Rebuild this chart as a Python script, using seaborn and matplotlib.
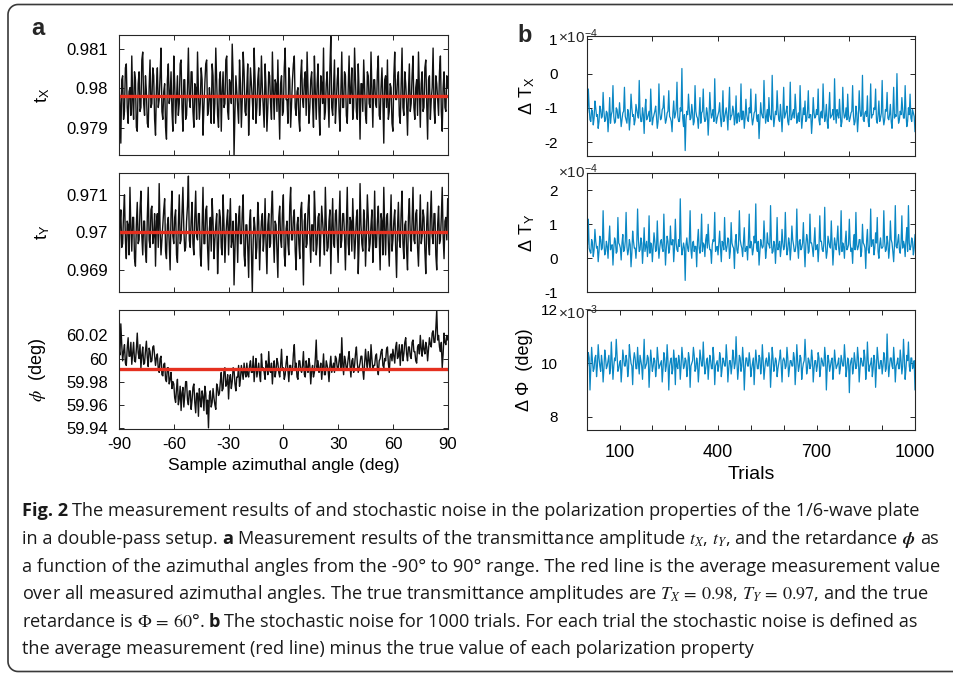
import numpy as np
import pandas as pd
import matplotlib
matplotlib.use("Agg")
import matplotlib.pyplot as plt
import seaborn as sns
from matplotlib.lines import Line2D

# ---------------- data ----------------
angles = np.arange(-90, 90.01, 0.5)          # sample azimuthal angle (deg), 361 samples
trials = np.arange(2.5, 1000.01, 2.5)        # trial axis, 400 samples

tx_mean = 0.97982                            # red line, t_X
ty_mean = 0.97000                            # red line, t_Y
phi_mean = 59.991                            # red line, phi

# t_X deviation from the red line, units of 1e-4
tx_dev = [3, -2, -12, 4, 5, -6, -4, 7, 8, -3, -7, 1, 2, -5, 10, -1, -6, 6, 4, -8, -9, 3, 6, -4, -3, 9, 11, -2, -5, 5, 1, -7, -8, 2, 9, -3, -2, 7, 5, -6,
          -10, 2, 7, -3, -1, 5, 12, -4, -6, 1, 3, -8, -11, 4, 8, -2, 0, 6, -4, -9, 10, 3, -7, -1, 5, -5, -2, 8, 9, -3, -9, 4, 4, -6, -5, 2, 12, -1, -3, 6,
          6, -4, -8, 3, 2, -6, 11, 1, -6, -2, 7, 4, -10, -3, 3, 8, 9, -5, -4, 2, -1, -7, 8, 5, -7, -2, 12, 3, -5, -8, 4, 6, -9, 1, 6, -3, -2, 9, 10, -4,
          -6, 4, 3, -2, 13, 5, -15, -4, 5, 1, -3, -7, 9, 3, -8, -1, 11, 6, -4, -5, 2, 8, -10, -2, 7, 3, -1, -6, 12, 4, -7, -3, 4, 7, -5, -1, 10, 2, -3, -8,
          8, 2, -9, -3, 6, 5, -2, -6, 11, 1, -6, 4, 3, -4, 9, -2, -11, 3, 5, -5, -4, 7, 12, -1, -1, -7, 7, 4, -8, -2, 4, 8, 10, -3, -5, 1, 2, -6, -9, 5,
          9, -1, -3, 4, 6, -5, 11, 2, -7, -3, 4, 6, -2, -8, 10, 1, -6, 3, 8, -4, -10, 5, 3, -2, 12, -6, -4, 3, 6, -1, -8, 7, 15, -3, -5, 2, 9, -7, -2, 4,
          7, -4, -9, 1, 11, -3, -3, 6, 5, -5, -7, 2, 10, -2, 1, 7, -6, -3, 12, 4, -4, -6, 8, 1, -11, 3, 3, -4, 9, 2, -5, -7, 6, 5, -2, -3, 11, 1, -8, 4,
          4, -2, -3, 6, 10, -5, -6, 2, 7, -1, -12, 4, 5, -3, 9, -6, -4, 3, 2, -7, -9, 5, 11, -1, -1, 4, 6, -5, -7, 2, 12, -3, -5, 6, 3, -2, -10, 1, 8, -4,
          -2, 5, 10, -3, -6, 2, 4, -5, 11, 1, -8, 3, 6, -4, -3, 7, 9, -2, -11, 4, 5, -6, -1, 2, 12, -3, -7, 5, 3, -1, -5, 6, 10, -4, -9, 2, 6, -3, -4, 5,
          2]

# t_Y deviation from the red line, units of 1e-4
ty_dev = [-11, 2, 6, -4, -3, 5, 10, -2, -7, 3, 2, -6, 12, 1, -5, 4, 4, -7, -9, 2, 8, -3, -2, 6, 11, -1, -6, 3, 3, -5, -8, 4, 12, -2, -4, 6, 7, -3, -1, 5,
          -9, 3, 5, -4, 13, 1, -6, -2, 2, 6, 9, -5, -7, 2, 4, -3, -10, 5, 11, -1, -3, 4, 6, -6, -8, 2, 10, -3, -2, 5, 12, 1, -5, -4, 3, 7, 15, -2, -4, 3,
          8, -3, -6, 4, 11, -1, -2, 5, 5, -6, -9, 2, 12, -3, -3, 6, 7, -4, -10, 1, 4, -5, 9, 3, -7, -2, 2, 5, -11, -3, 6, 4, -4, -6, 10, 2, -8, -1, 3, 6,
          -6, 2, 9, -4, -2, 3, -14, -5, 5, 1, -8, 4, 7, -3, -3, 5, 10, -6, -9, 2, 2, -4, -12, 3, 6, -5, -16, -2, 4, 1, -7, -4, 8, 3, -10, -2, 3, 5, -5, -1,
          9, -3, -11, 2, 5, -4, -3, 6, 11, -1, -8, 3, 2, -5, -12, 4, 7, -2, -4, 5, 10, -6, -9, 1, 3, -3, -6, 7, 12, -2, -2, 4, 6, -5, -10, 2, 4, -3, -7, 6,
          8, -2, -14, 3, 5, -4, -3, 6, 10, -1, -8, 2, 2, -5, 11, 4, -6, -3, 4, 5, -9, -1, 7, 3, -1, -6, 12, 2, -5, -4, 3, 6, -11, 1, 9, -3, -4, 5, 6, -2,
          -8, 3, 11, -4, -2, 5, 5, -1, -10, 2, 12, -3, -6, 4, 3, -5, 9, 1, -7, -2, 4, 6, -11, -3, 13, 2, -3, -5, 6, 3, -9, -1, 10, 4, -5, -3, 2, 6, -8, -2,
          11, -4, -4, 3, 7, -2, -10, 5, 3, -6, 12, 1, -6, 4, 5, -3, -9, 2, 10, -5, -2, 3, 6, -4, -12, 1, 8, -2, -4, 5, 11, -3, -7, 2, 3, -5, -10, 4, 9, -1,
          -5, 3, 12, -2, -3, 5, 6, -4, -9, 1, 10, -3, -1, 6, 4, -5, -11, 2, 8, -3, -6, 4, 11, -1, -3, 5, 5, -6, -10, 2, 7, -3, -2, 4, 12, -1, -7, 3, 4, -2,
          9]

# phi deviation from 60 deg, units of 1e-3 deg
phi_dev = [8, 3, 30, 12, -2, 6, 12, -4, -6, 9, 18, 2, 2, 14, -5, 4, 14, -2, -3, 8, 22, 5, 0, 12, -8, 3, 10, -5, -4, 7, 15, 1, -7, 9, 6, -3, -2, 10, 11, 2,
           -6, 1, 4, -9, -12, 0, 2, -14, -15, -5, -4, -18, -20, -8, -8, -22, -18, -12, -26, -20,
           -22, -34, -38, -26, -18, -40, -35, -24, -45, -30, -25, -42, -32, -20, -20, -36, -40, -28, -28, -44, -36, -25, -22, -38, -47, -30,
           -30, -50, -26, -35, -42, -28, -33, -45, -24, -30, -48, -36, -60, -32, -28, -42, -38, -26, -34, -40, -44, -22, -25, -32,
           -30, -20, -12, -28, -26, -10, -8, -24, -22, -14, -35, -18, -14, -26, -20, -8, -10, -22, -28, -16, -16, -6, -24, -18, -6, -12, -18, -4, -12, -16,
           -4, -14, -16, -6, -2, -12, -12, 2, -20, -8, 0, -16, -10, -4, -14, -20, 4, -8, -8, -12, -18, -2, -6, -14, 6, -10, -12, -4, -22, -8, -2, -16, -10, 0, -4, -12, -16, -6, 8, -10,
           -8, -18, -14, -4, 2, -10, -20, -6, -6, -14, -10, 4, 12, -8, -4, -16, -18, -2, -2, -10, -12, -6, 6, -14, -16, -2, -8, -12, 0, -6, -22, -10, -6, -16, -12, 0, 16, -8, -2, -12,
           -10, -4, -18, -8, 4, -14, -14, -2, -6, -10, -20, -6, 2, -12, -8, -4, -12, 2, 0, -8,
           -10, -2, 4, -8, 18, -4, -14, 2, -2, -10, -8, 0, 6, -6, -16, -2, 0, -12, -6, 4, 10, -4, -12, -8, -4, 2, 2, -10, -18, -4, 8, -2, -8, 6, -2, -10, 12, 0, -10, -6,
           -6, 2, 4, -8, -14, -2, 0, 6, 8, -6, -8, 0, -2, 8, 10, -4, -12, 2, 4, -2,
           8, 2, -4, 10, 14, 0, 2, 12, -6, 6, 12, -2, 4, 14, 18, 4, -2, 10, 10, 2, 0, 14, 16, 6, 6, -2, -4, 10, 12, 4, 20, 8, 2, 16, 8, 4, 14, 10, -2, 8,
           18, 12, 10, 22, 24, 14, 14, 26, 42, 16, 20, 10, 6, 14, -8, 4, 22, 14, 12, 20, 16]

# stochastic noise, Delta T_X (x1e-4)
dTx = [-1.15, -0.45, -1.0, -1.35, -1.4, -1.05, -1.1, -1.5, -1.3, -0.8, -1.0, -1.25, -1.2, -1.6, -1.4, -0.95, -1.05, -1.3, -1.25, -0.55,
       -1.1, -1.4, -1.35, -1.1, -1.15, -1.7, -1.3, -0.7, -1.45, -1.2, -1.1, -0.35, -1.25, -1.45, -1.4, -1.0, -1.05, -1.3, -1.3, -0.85,
       -1.2, -1.55, -1.35, -1.15, -1.1, -0.4, -1.25, -1.35, -1.45, -1.05, -1.15, -1.65, -1.3, -0.6, -1.0, -1.25, -1.2, -1.5, -1.35, -0.9,
       -1.05, -1.2, -1.3, -0.2, -1.15, -1.4, -1.4, -1.0, -1.2, -1.75, -1.05, -0.75, -1.35, -1.3, -1.2, -1.1, -1.4, -0.45, -1.1, -1.5,
       -1.3, -1.2, -1.1, -0.95, -1.25, -1.6, -1.4, -0.3, -1.15, -1.35, -1.3, -1.05, -1.0, -0.65, -1.2, -1.45, -1.35, -1.15, -1.1, -0.5,
       -1.25, -1.3, -1.4, -1.7, -1.15, -0.8, -1.3, -1.2, -1.05, -0.25, -1.25, -1.4, -1.4, -1.0, -1.1, 0.15, -1.3, -1.55, -1.2, -2.25,
       -1.35, -1.1, -1.2, -0.6, -1.05, -1.35, -1.3, -0.9, -1.15, -1.5, -1.4, -0.35, -1.1, -1.25, -1.3, -1.6, -1.2, -0.7, -1.45, -1.15,
       -1.1, -0.45, -1.25, -1.4, -1.35, -1.0, -1.15, -1.8, -1.3, -0.55, -1.05, -1.3, -1.2, -1.05, -1.4, -0.15, -1.15, -1.45, -1.3, -1.2,
       -1.1, -0.85, -1.3, -1.55, -1.2, -0.5, -1.4, -1.3, -1.15, -1.0, -1.25, -1.65, -1.05, -0.4, -1.35, -1.25, -1.2, -0.95, -1.1, -1.5,
       -1.3, -0.65, -1.45, -1.2, -1.15, -1.4, -1.25, -0.3, -1.35, -1.1, -1.1, -1.6, -1.3, -0.75, -1.2, -1.35, -1.4, -1.0, -1.15, -0.45,
       -1.25, -1.5, -1.35, -1.15, -1.1, -0.6, -1.3, -1.4, -1.2, -1.9, -1.4, -0.85, -1.15, -1.25, -1.3, -0.2, -1.05, -1.45, -1.25, -1.05,
       -1.4, -0.7, -1.2, -1.3, -1.35, -0.05, -1.1, -1.55, -1.3, -1.1, -1.2, -0.5, -1.05, -1.35, -1.4, -0.9, -1.25, -1.7, -1.15, -0.4,
       -1.3, -1.2, -1.1, -0.95, -1.4, -1.5, -1.2, -0.25, -1.35, -1.3, -1.15, -1.05, -1.3, -0.6, -1.05, -1.45, -1.25, -1.15, -1.4, -0.35,
       -1.15, -1.6, -1.3, -1.0, -1.2, -0.8, -1.4, -1.35, -1.1, -0.5, -1.3, -1.2, -1.2, -1.75, -1.35, -0.7, -1.15, -1.3, -1.25, -1.05,
       -1.2, -0.45, -1.35, -1.5, -1.15, -1.1, -1.3, -0.3, -1.05, -1.4, -1.25, -0.9, -1.4, -1.6, -1.1, -0.55, -1.3, -1.25, -1.2, -1.05,
       -1.35, -0.15, -1.15, -1.45, -1.05, -1.2, -1.3, -0.75, -1.2, -1.55, -1.4, -0.4, -1.1, -1.3, -1.25, -1.0, -1.35, -0.6, -1.2, -1.4,
       -1.3, -1.15, -1.1, -0.35, -1.25, -1.5, -1.4, -0.95, -1.15, -1.7, -1.3, -0.5, -1.05, -1.25, -1.2, -0.05, -1.35, -1.4, -1.15, -1.1,
       -1.25, -0.65, -1.4, -1.55, -1.1, -0.3, -1.3, -1.2, -1.2, -1.0, -1.05, -0.45, -1.35, -1.45, -1.2, -0.8, -1.4, -1.3, -1.15, -0.2,
       -1.25, -1.5, -1.35, -1.05, -1.1, -0.55, -1.3, -1.35, -1.2, -0.9, -1.4, -1.6, -1.15, -0.4, -1.3, -1.2, -1.25, 0.0, -1.1, -1.45,
       -1.35, -1.1, -1.2, -0.7, -1.05, -1.3, -1.3, -0.35, -1.15, -1.55, -1.4, -1.0, -1.2, -0.6, -1.3, -1.4, -1.05, -1.15, -1.25, -1.7]

# stochastic noise, Delta T_Y (x1e-4)
dTy = [0.4, 1.15, 0.3, 0.2, 0.15, 0.55, 0.45, 0.05, 0.25, 0.85, 0.5, 0.3, 0.35, -0.1, 0.2, 0.65, 0.55, 0.25, 0.3, 1.4,
       0.45, 0.1, 0.2, 0.5, 0.35, 0.0, 0.55, 0.95, 0.25, 0.35, 0.4, -0.2, 0.3, 0.6, 0.5, 0.15, 0.2, 1.2, 0.45, 0.4,
       0.3, -0.05, 0.45, 0.7, 0.2, 0.25, 0.5, 1.35, 0.35, 0.1, 0.25, 0.55, 0.4, -0.25, 0.15, 0.8, 0.5, 0.3, 0.3, 0.0,
       0.4, 1.45, 0.55, 0.2, 0.25, 0.6, 0.45, -0.15, 0.3, 0.9, 0.2, 0.35, 0.5, 0.05, 0.35, 1.25, 0.15, 0.45, 0.4, -0.1,
       0.35, 0.75, 0.5, 0.2, 0.25, 1.1, 0.4, 0.0, 0.3, 0.5, 0.55, 0.3, 0.2, 1.3, 0.45, -0.2, 0.3, 0.65, 0.5, 0.15,
       0.25, 0.95, 0.4, 0.4, 0.55, -0.1, 0.3, 1.15, 0.45, 0.25, 0.2, 0.55, 0.35, 1.75, 0.5, 0.1, 0.25, 0.45, 0.3, -0.65,
       0.4, 0.6, 0.3, 0.2, 0.5, 1.4, 0.25, 0.0, 0.45, 0.5, 0.2, 0.35, 0.35, -0.25, 0.5, 0.85, 0.3, 0.15, 0.45, 1.3,
       0.2, 0.45, 0.4, 0.05, 0.55, 0.7, 0.3, 1.0, 0.45, 0.25, 0.25, -0.15, 0.4, 0.55, 0.5, 1.35, 0.2, 0.3, 0.35, 0.1,
       0.45, 0.8, 0.3, -0.1, 0.5, 0.45, 0.25, 1.2, 0.4, 0.2, 0.35, 0.6, 0.55, 0.0, 0.2, 1.05, 0.45, 0.35, 0.3, -0.3,
       0.5, 0.7, 0.25, 0.15, 0.4, 1.4, 0.55, 0.4, 0.3, 0.05, 0.45, 0.9, 0.2, 0.25, 0.35, -0.05, 0.5, 1.3, 0.3, 0.5,
       0.4, 0.1, 0.25, 0.65, 0.45, 1.6, 0.3, 0.2, 0.5, -0.2, 0.2, 0.55, 0.4, 0.3, 0.35, 1.1, 0.55, 0.0, 0.25, 0.75,
       0.45, 0.4, 0.3, 1.55, 0.5, 0.15, 0.2, 0.5, 0.4, -0.15, 0.35, 1.2, 0.25, 0.35, 0.5, 0.05, 0.3, 0.85, 0.45, 0.25,
       0.35, 1.35, 0.5, 0.1, 0.25, 0.6, 0.45, -0.05, 0.3, 0.95, 0.55, 0.4, 0.2, 0.2, 0.4, 1.45, 0.35, 0.0, 0.5, 0.55,
       0.25, 0.3, 0.45, 1.05, 0.3, -0.25, 0.4, 0.7, 0.55, 0.15, 0.2, 1.3, 0.45, 0.45, 0.3, 0.05, 0.5, 0.9, 0.25, 0.3,
       0.4, -0.1, 0.3, 1.25, 0.5, 0.5, 0.25, 0.2, 0.45, 1.5, 0.35, 0.0, 0.2, 0.65, 0.5, 0.35, 0.3, 1.1, 0.45, -0.2,
       0.25, 0.6, 0.4, 0.25, 0.55, 0.95, 0.3, 0.1, 0.45, 1.4, 0.2, 0.45, 0.35, 0.0, 0.5, 0.8, 0.25, 0.3, 0.4, 1.15,
       0.45, 0.2, 0.3, -0.15, 0.5, 0.7, 0.25, 1.35, 0.4, 0.25, 0.35, 0.55, 0.55, 0.05, 0.2, 1.0, 0.45, 0.4, 0.3, -0.3,
       0.5, 0.85, 0.25, 0.15, 0.4, 1.45, 0.35, 0.5, 0.55, 0.1, 0.3, 0.75, 0.45, 1.2, 0.2, 0.0, 0.4, 0.6, 0.3, 0.3,
       0.35, 1.4, 0.5, 0.2, 0.25, 0.65, 0.45, 0.0, 0.3, 1.1, 0.55, 0.45, 0.2, -0.1, 0.4, 1.55, 0.35, 0.3, 0.5, 0.7,
       0.25, 0.15, 0.45, 1.25, 0.3, 0.5, 0.4, 0.05, 0.55, 0.9, 0.2, 1.55, 0.45, 0.25, 0.35, 0.6, 0.5, 0.1, 0.3, 0.7]

# stochastic noise, Delta Phi (x1e-3 deg)
dPhi = [9.9, 10.4, 10.2, 9.0, 9.8, 10.6, 10.1, 9.7, 9.8, 10.2, 10.3, 9.5, 9.9, 10.7, 10.2, 9.9, 9.7, 10.3, 10.0, 9.3,
        9.8, 10.5, 10.2, 9.8, 9.9, 10.1, 10.3, 9.6, 9.8, 10.8, 10.1, 9.4, 9.9, 10.2, 10.1, 10.9, 10.3, 9.7, 9.8, 10.0,
        10.1, 9.3, 9.8, 10.5, 10.2, 9.9, 9.9, 10.3, 10.1, 9.5, 9.8, 10.7, 10.3, 10.0, 9.9, 9.2, 10.1, 10.4, 10.2, 9.8,
        9.8, 10.6, 10.0, 9.6, 10.3, 10.1, 9.9, 9.4, 10.1, 10.9, 9.8, 9.9, 10.0, 10.3, 10.2, 9.1, 9.8, 10.5, 10.1, 9.7,
        9.9, 10.2, 10.1, 9.5, 9.8, 10.6, 10.2, 9.8, 9.9, 10.0, 10.1, 9.3, 9.8, 10.4, 10.2, 9.7, 9.9, 10.7, 10.1, 9.0,
        9.9, 10.1, 10.2, 9.6, 9.8, 10.5, 10.1, 9.2, 10.2, 9.9, 9.8, 10.3, 10.1, 9.4, 9.9, 10.6, 10.2, 9.8, 9.9, 10.2,
        10.1, 9.5, 9.8, 10.4, 10.2, 9.1, 9.9, 10.0, 10.1, 10.6, 10.3, 9.7, 9.8, 10.2, 10.0, 9.3, 9.8, 10.5, 10.2, 9.9,
        9.9, 10.8, 10.1, 9.6, 9.8, 10.1, 10.2, 9.4, 9.9, 10.3, 10.1, 9.8, 9.8, 10.6, 10.2, 9.2, 9.9, 10.0, 10.1, 9.7,
        9.9, 10.4, 10.2, 9.5, 9.8, 10.2, 10.1, 9.9, 9.9, 10.7, 10.2, 9.3, 9.8, 10.1, 10.1, 9.6, 9.9, 10.5, 10.2, 9.8,
        10.0, 11.0, 10.1, 9.4, 9.8, 10.3, 10.2, 9.7, 9.9, 10.6, 10.1, 9.0, 9.8, 10.2, 10.2, 9.9, 9.9, 10.4, 10.1, 9.5,
        9.8, 10.0, 10.2, 9.2, 9.9, 10.5, 10.1, 9.8, 9.8, 10.3, 10.2, 9.6, 9.9, 10.7, 10.1, 9.4, 9.8, 10.1, 10.2, 9.9,
        9.9, 10.4, 10.1, 9.1, 9.8, 10.6, 10.2, 9.7, 9.9, 10.2, 10.1, 9.5, 9.8, 10.0, 10.2, 10.5, 9.9, 9.3, 10.1, 10.2,
        10.1, 9.8, 9.9, 10.6, 10.2, 9.5, 9.8, 10.1, 10.1, 9.9, 9.9, 10.4, 10.2, 9.2, 9.8, 10.7, 10.1, 9.7, 9.9, 10.3,
        10.2, 9.4, 9.8, 10.0, 10.1, 10.9, 10.2, 9.6, 9.8, 10.2, 10.1, 9.8, 9.9, 10.5, 10.2, 9.3, 9.8, 10.1, 10.1, 9.7,
        9.9, 10.4, 10.2, 9.5, 9.8, 10.2, 10.1, 9.9, 9.9, 10.6, 10.2, 9.0, 9.8, 10.3, 10.1, 9.7, 9.9, 10.1, 10.2, 9.4,
        9.8, 10.5, 10.1, 9.8, 9.9, 10.0, 10.2, 9.6, 9.8, 10.3, 10.1, 9.9, 9.9, 10.7, 10.2, 9.5, 9.8, 10.2, 10.1, 8.9,
        9.9, 10.1, 10.2, 9.6, 9.8, 10.4, 10.1, 9.8, 9.9, 10.6, 10.2, 9.3, 9.8, 10.2, 10.1, 9.9, 9.9, 10.5, 10.2, 9.4,
        9.8, 10.8, 10.1, 9.7, 9.9, 10.0, 10.2, 9.5, 9.8, 10.3, 10.1, 9.1, 9.9, 10.6, 10.2, 9.8, 9.8, 10.1, 10.1, 9.6,
        9.9, 10.4, 10.2, 9.7, 9.8, 11.1, 10.1, 9.5, 9.9, 10.2, 10.2, 9.9, 9.8, 10.6, 10.1, 9.3, 9.9, 10.0, 10.2, 9.8,
        9.8, 10.5, 10.1, 9.6, 9.9, 10.9, 10.2, 9.4, 9.8, 10.3, 10.1, 10.8, 9.9, 9.7, 10.2, 10.2, 9.8, 9.9, 10.1, 9.0]

# tick labels
tx_ticks = [0.979, 0.98, 0.981]
tx_ticklabels = ["0.979", "0.98", "0.981"]
ty_ticks = [0.969, 0.97, 0.971]
ty_ticklabels = ["0.969", "0.97", "0.971"]
phi_ticks = [59.94, 59.96, 59.98, 60.0, 60.02]
phi_ticklabels = ["59.94", "59.96", "59.98", "60", "60.02"]
angle_ticks = [-90, -60, -30, 0, 30, 60, 90]
dtx_ticks = [-2, -1, 0, 1]
dty_ticks = [-1, 0, 1, 2]
dphi_ticks = [8, 10, 12]
trial_labelled = [100, 400, 700, 1000]

tx = tx_mean + np.array(tx_dev) * 1e-4
ty = ty_mean + np.array(ty_dev) * 1e-4
phi = 60.0 + np.array(phi_dev) * 1e-3

frames_a = {
    "tx": pd.DataFrame({"angle": angles, "v": tx}),
    "ty": pd.DataFrame({"angle": angles, "v": ty}),
    "phi": pd.DataFrame({"angle": angles, "v": phi}),
}
frames_b = {
    "dTx": pd.DataFrame({"trial": trials, "v": dTx}),
    "dTy": pd.DataFrame({"trial": trials, "v": dTy}),
    "dPhi": pd.DataFrame({"trial": trials, "v": dPhi}),
}

# ---------------- style ----------------
sns.set_theme(style="ticks")
plt.rcParams["font.family"] = ["Liberation Sans", "DejaVu Sans"]
plt.rcParams["mathtext.fontset"] = "stix"
plt.rcParams["axes.edgecolor"] = "#262626"
plt.rcParams["axes.linewidth"] = 0.8

W, H = 954, 673
fig = plt.figure(figsize=(W / 100, H / 100), dpi=100)
fig.patch.set_facecolor("white")


def add_ax(x0, y0, x1, y1):
    return fig.add_axes([x0 / W, 1 - y1 / H, (x1 - x0) / W, (y1 - y0) / H])


def fpos(x, y):
    return x / W, 1 - y / H


RED = "#e5301f"
BLUE = "#0a87c4"


def style_axes(ax):
    for s in ax.spines.values():
        s.set_visible(True)
        s.set_color("#262626")
        s.set_linewidth(0.8)


# ---------------- panel a ----------------
a1 = add_ax(119, 35, 447.7, 155)
a2 = add_ax(119, 172.7, 447.7, 291.7)
a3 = add_ax(119, 310, 447.7, 429)

specs_a = [(a1, "tx", tx_mean, (0.97832, 0.98135), tx_ticks, tx_ticklabels, "t$_\\mathregular{X}$", -0.204),
           (a2, "ty", ty_mean, (0.96842, 0.97159), ty_ticks, ty_ticklabels, "t$_\\mathregular{Y}$", -0.204),
           (a3, "phi", phi_mean, (59.939, 60.042), phi_ticks, phi_ticklabels, "$\\phi$  (deg)", -0.216)]

for ax, col, mean, ylim, yt, ytl, lab, lx in specs_a:
    sns.lineplot(data=frames_a[col], x="angle", y="v", ax=ax, color="#111111", lw=1.0,
                 estimator=None, legend=False)
    ax.axhline(mean, color=RED, lw=2.4)
    ax.set_xlim(-90, 90)
    ax.set_ylim(*ylim)
    ax.set_yticks(yt)
    ax.set_yticklabels(ytl)
    ax.set_xticks(angle_ticks)
    ax.tick_params(direction="in", length=3.5, width=0.7, top=True, right=True,
                   labelsize=12, pad=8, colors="#262626", labelcolor="black")
    ax.set_ylabel(lab, fontsize=13, color="black")
    ax.yaxis.set_label_coords(lx, 0.5)
    style_axes(ax)
    if ax is not a3:
        ax.set_xticklabels([])
        ax.set_xlabel("")
a3.set_xticklabels([str(v) for v in angle_ticks])
a3.tick_params(axis="x", labelsize=12, pad=6)
a3.set_xlabel("Sample azimuthal angle (deg)", fontsize=12.5, color="black")
a3.xaxis.set_label_coords(0.5, -0.245)

# ---------------- panel b ----------------
b1 = add_ax(586.7, 36, 915, 155.7)
b2 = add_ax(586.7, 173.3, 915, 292.3)
b3 = add_ax(586.7, 310, 915, 430)

specs_b = [(b1, "dTx", (-2.4, 1.1), dtx_ticks, "Δ T$_\\mathregular{X}$", -0.151),
           (b2, "dTy", (-1.0, 2.5), dty_ticks, "Δ T$_\\mathregular{Y}$", -0.151),
           (b3, "dPhi", (7.5, 12.0), dphi_ticks, "Δ Φ  (deg)", -0.163)]

for ax, col, ylim, yt, lab, lx in specs_b:
    sns.lineplot(data=frames_b[col], x="trial", y="v", ax=ax, color=BLUE, lw=0.9,
                 estimator=None, legend=False)
    ax.set_xlim(0, 1000)
    ax.set_ylim(*ylim)
    ax.set_yticks(yt)
    ax.set_yticklabels([str(v) for v in yt])
    ax.tick_params(direction="in", length=3.5, width=0.7, top=True, right=True,
                   labelsize=11, colors="#262626", labelcolor="black")
    ax.tick_params(axis="y", pad=21)
    ax.set_ylabel(lab, fontsize=13, color="black")
    ax.yaxis.set_label_coords(lx, 0.5)
    style_axes(ax)
    if ax is not b3:
        ax.set_xticks(np.arange(0, 1001, 200))
        ax.set_xticklabels([])
        ax.set_xlabel("")

b3.set_xticks(np.arange(0, 1001, 100))
b3.set_xticklabels([str(v) if v in trial_labelled else "" for v in np.arange(0, 1001, 100)])
b3.tick_params(axis="x", labelsize=13, pad=10)
b3.set_xlabel("Trials", fontsize=14, color="black")
b3.xaxis.set_label_coords(0.5, -0.30)

# exponent labels (MATLAB style)
fig.text(*fpos(558, 37), "×10$^{\\mathregular{-4}}$", fontsize=11, va="center", ha="left")
fig.text(*fpos(558, 172), "×10$^{\\mathregular{-4}}$", fontsize=11, va="center", ha="left")
fig.text(*fpos(558, 313), "×10$^{\\mathregular{-3}}$", fontsize=11, va="center", ha="left")

# panel letters
fig.text(*fpos(31, 35), "a", fontsize=17, fontweight="bold", va="baseline", ha="left")
fig.text(*fpos(517, 42), "b", fontsize=17, fontweight="bold", va="baseline", ha="left")

# ---------------- frame (rounded, open to the right) ----------------
r, xl, yt_, yb_ = 10.0, 8.0, 4.5, 671.5
t = np.linspace(np.pi / 2, np.pi, 12)
top_arc = np.c_[xl + r + r * np.cos(t), yt_ + r - r * np.sin(t)]
t2 = np.linspace(np.pi, np.pi / 2, 12)
bot_arc = np.c_[xl + r + r * np.cos(t2), yb_ - r + r * np.sin(t2)]
pts = np.vstack([[[960, yt_]], top_arc, bot_arc, [[960, yb_]]])
fig.add_artist(Line2D(pts[:, 0] / W, 1 - pts[:, 1] / H, transform=fig.transFigure,
                      color="#3a3a3a", lw=1.2))

# ---------------- caption ----------------
cap_font = ["Open Sans", "Liberation Sans", "DejaVu Sans"]
cap_fs = 13.1
renderer = fig.canvas.get_renderer()
GAP = 4.2


def caption_line(y_px, parts, x_px=22.0):
    x = x_px
    for text, bold in parts:
        tt = fig.text(x / W, 1 - y_px / H, text, fontsize=cap_fs, family=cap_font,
                      fontweight="bold" if bold else "normal", va="baseline", ha="left",
                      color="#1a1a1a")
        try:
            bb = tt.get_window_extent(renderer)
        except Exception:
            tt.set_text(text.replace("\\boldsymbol", "\\mathbf"))
            bb = tt.get_window_extent(renderer)
        x = bb.x1 + GAP


caption = [
    (516.5, [("Fig. 2", True), ("The measurement results of and stochastic noise in the polarization properties of the 1/6-wave plate", False)]),
    (544.0, [("in a double-pass setup.", False), ("a", True),
             ("Measurement results of the transmittance amplitude $t_X$, $t_Y$, and the retardance", False),
             ("$\\boldsymbol{\\phi}$", False), ("as", False)]),
    (571.8, [("a function of the azimuthal angles from the -90° to 90° range. The red line is the average measurement value", False)]),
    (599.0, [("over all measured azimuthal angles. The true transmittance amplitudes are $T_X\\,=\\,0.98$, $T_Y\\,=\\,0.97$, and the true", False)]),
    (626.8, [("retardance is $\\Phi\\,=\\,60$°.", False), ("b", True),
             ("The stochastic noise for 1000 trials. For each trial the stochastic noise is defined as", False)]),
    (654.5, [("the average measurement (red line) minus the true value of each polarization property", False)]),
]
for y_px, parts in caption:
    caption_line(y_px, parts)

fig.savefig("out.png", dpi=100, facecolor="white")
